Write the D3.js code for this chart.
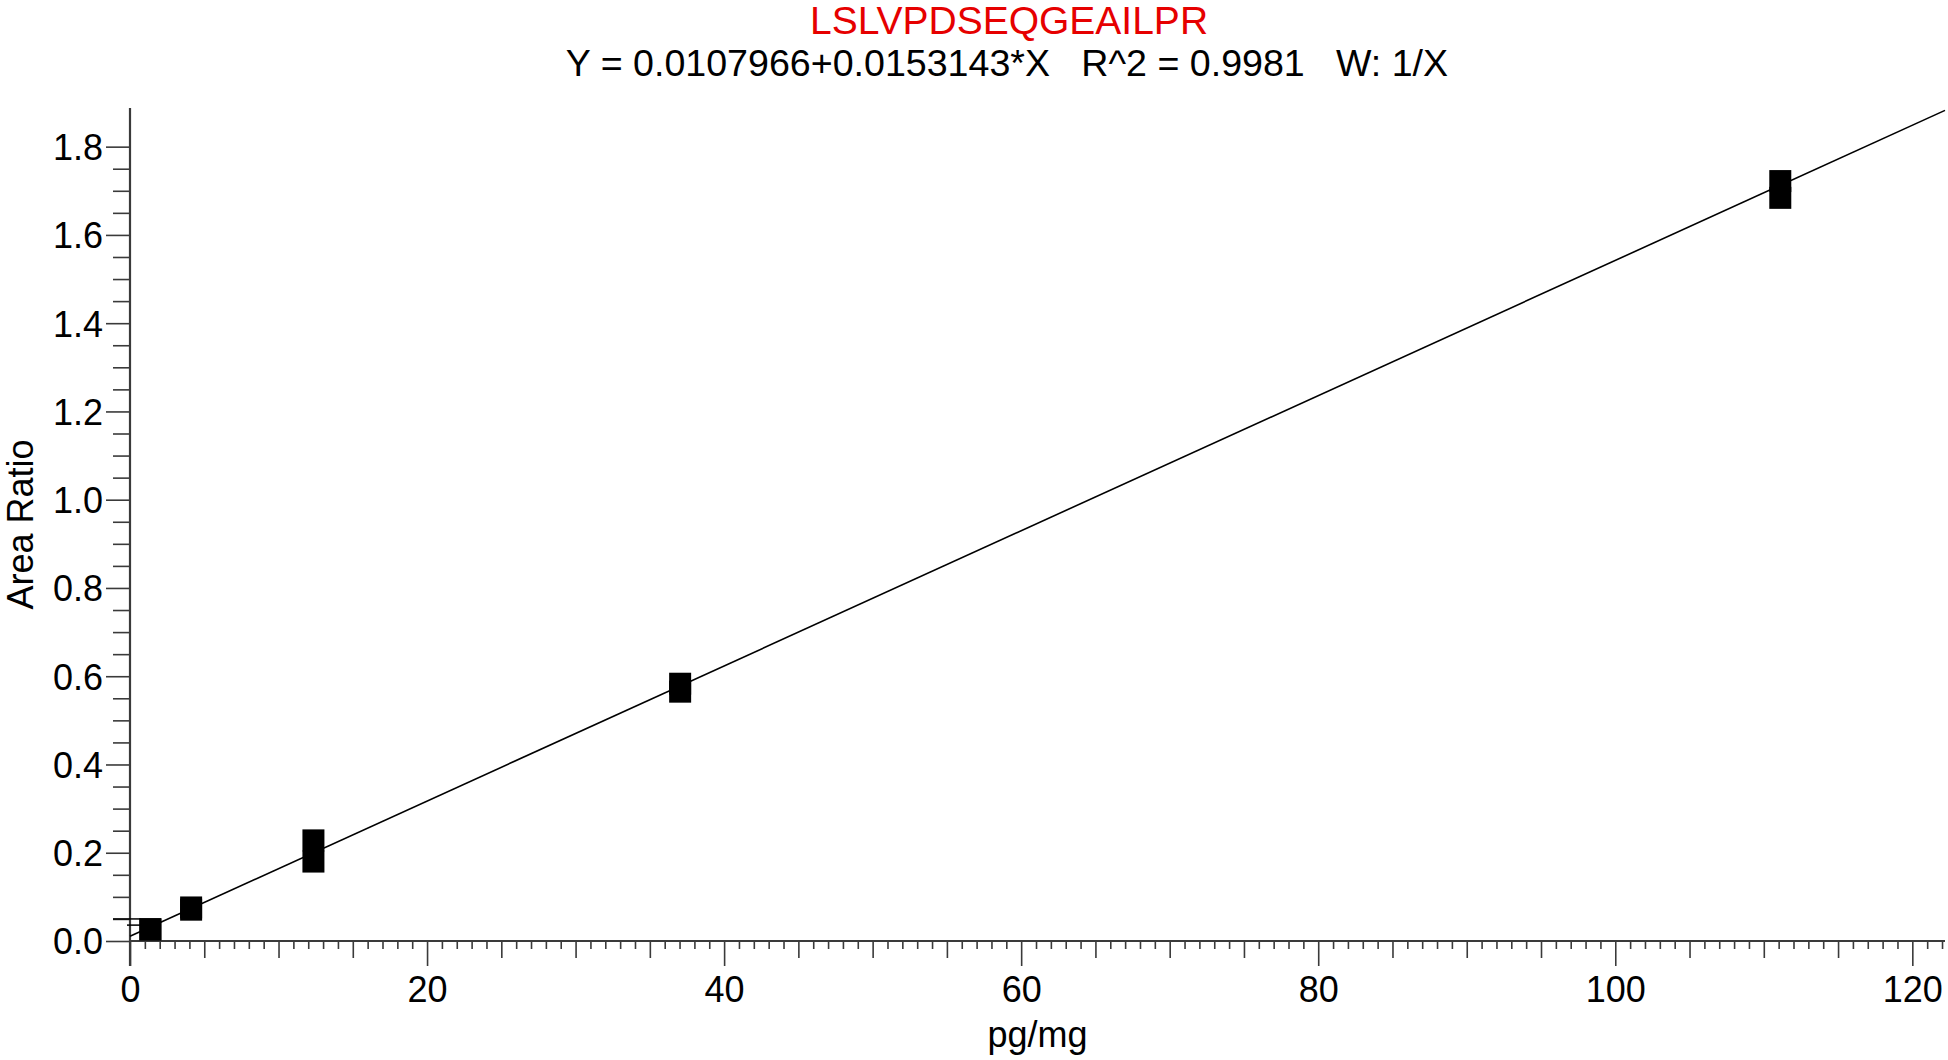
<!DOCTYPE html>
<html>
<head>
<meta charset="utf-8">
<script src="https://cdn.jsdelivr.net/npm/d3@7"></script>
<style>
  body { margin: 0; background: #fff; }
  text { font-family: "Liberation Sans", Arial, sans-serif; }
</style>
</head>
<body>
<div id="graph"></div>
<script>
  //Calibration data (pg/mg vs area ratio)
  var concentrations = [1.372, 1.372, 4.115, 4.115, 12.35, 12.35, 37.04, 37.04, 111.11, 111.11];
  var areaRatios = [0.027, 0.026, 0.076, 0.071, 0.228, 0.180, 0.583, 0.565, 1.722, 1.684];

  //Fit from the title
  const intercept = 0.0107966;
  const slope = 0.0153143;

  //Small marks near the origin
  var originMarks = [0.05, 0.036];

  var compound = "LSLVPDSEQGEAILPR";
  var equation = "Y = 0.0107966+0.0153143*X   R^2 = 0.9981   W: 1/X";
  var yTicks = [0, 0.2, 0.4, 0.6, 0.8, 1.0, 1.2, 1.4, 1.6, 1.8];
  var xTicks = [0, 20, 40, 60, 80, 100, 120];

  const W = 1948, H = 1060;
  const axisColor = "#3a3a3a";

  var svg = d3.select("#graph").append("svg")
      .attr("width", W)
      .attr("height", H);

  var x = d3.scaleLinear().domain([0, 122.2]).range([130, 1945]);
  var y = d3.scaleLinear().domain([0, 1.8876]).range([941, 108]);

  //Titles
  svg.append("text")
      .attr("x", 1009).attr("y", 34)
      .attr("text-anchor", "middle")
      .attr("fill", "#e60000")
      .style("font-size", "39px")
      .text(compound);

  svg.append("text")
      .attr("x", 1007).attr("y", 76)
      .attr("text-anchor", "middle")
      .attr("fill", "#000")
      .style("font-size", "37.6px")
      .style("white-space", "pre")
      .attr("xml:space", "preserve")
      .text(equation);

  //X axis: minor, medium, major ticks
  var xMinor = d3.range(0, 123, 1).filter(v => v % 5 != 0);
  var xMedium = d3.range(0, 123, 5).filter(v => v % 20 != 0);

  function xAxisLayer(values, size, labels) {
    var g = svg.append("g")
        .attr("transform", "translate(0," + y(0) + ")")
        .call(d3.axisBottom(x).tickValues(values).tickSize(size).tickSizeOuter(0)
          .tickFormat(labels ? d3.format("d") : ""));
    g.select(".domain").remove();
    g.selectAll(".tick line").attr("stroke", axisColor).attr("stroke-width", 1.6);
    g.selectAll(".tick text")
        .attr("y", 0).attr("dy", null)
        .attr("transform", "translate(0,61)")
        .attr("fill", "#000")
        .style("font-size", "36px");
    return g;
  }
  xAxisLayer(xMinor, 8, false);
  xAxisLayer(xMedium, 17, false);
  xAxisLayer(xTicks, 25, true);

  //Y axis: minor and major ticks
  var yMinor = d3.range(0, 37).map(i => i * 0.05).filter((v, i) => i % 4 != 0);

  function yAxisLayer(values, size, labels) {
    var g = svg.append("g")
        .attr("transform", "translate(" + x(0) + ",0)")
        .call(d3.axisLeft(y).tickValues(values).tickSize(size).tickSizeOuter(0)
          .tickFormat(labels ? d3.format(".1f") : ""));
    g.select(".domain").remove();
    g.selectAll(".tick line").attr("stroke", axisColor).attr("stroke-width", 1.6);
    g.selectAll(".tick text")
        .attr("x", -27).attr("dy", "0.36em")
        .attr("fill", "#000")
        .style("font-size", "36px");
    return g;
  }
  yAxisLayer(yMinor, 17, false);
  yAxisLayer(yTicks, 24, true);

  //Axis lines
  svg.append("line")
      .attr("x1", x(0)).attr("x2", x(0))
      .attr("y1", y.range()[1]).attr("y2", y(0) + 25)
      .attr("stroke", axisColor).attr("stroke-width", 2.2);
  svg.append("line")
      .attr("x1", x(0)).attr("x2", x.range()[1])
      .attr("y1", y(0)).attr("y2", y(0))
      .attr("stroke", axisColor).attr("stroke-width", 2.2);

  //Axis labels
  svg.append("text")
      .attr("x", (x.range()[0] + x.range()[1]) / 2).attr("y", 1047)
      .attr("text-anchor", "middle")
      .style("font-size", "36px")
      .text("pg/mg");

  svg.append("text")
      .attr("transform", "rotate(-90)")
      .attr("x", -(y.range()[0] + y.range()[1]) / 2).attr("y", 33)
      .attr("text-anchor", "middle")
      .style("font-size", "36px")
      .text("Area Ratio");

  //Marks near origin
  svg.append("g").selectAll("line")
      .data(originMarks)
      .enter().append("line")
      .attr("x1", (d, i) => i == 0 ? x(0) - 17 : x(0) - 3)
      .attr("x2", x(0.7))
      .attr("y1", d => y(d)).attr("y2", d => y(d))
      .attr("stroke", "#000").attr("stroke-width", 1.5);

  //Regression line
  var fitX = x.domain();
  var fitLine = d3.line()
      .x(d => x(d))
      .y(d => y(intercept + slope * d));
  svg.append("path")
      .attr("d", fitLine(fitX))
      .attr("fill", "none")
      .attr("stroke", "#000")
      .attr("stroke-width", 1.6);

  //Points
  const size = 22;
  var points = concentrations.map((c, i) => ({ c: c, r: areaRatios[i] }));
  svg.append("g").selectAll("rect")
      .data(points)
      .enter().append("rect")
      .attr("x", d => x(d.c) - size / 2)
      .attr("y", d => y(d.r) - size / 2)
      .attr("width", size)
      .attr("height", size)
      .attr("fill", "#000");
</script>
</body>
</html>
